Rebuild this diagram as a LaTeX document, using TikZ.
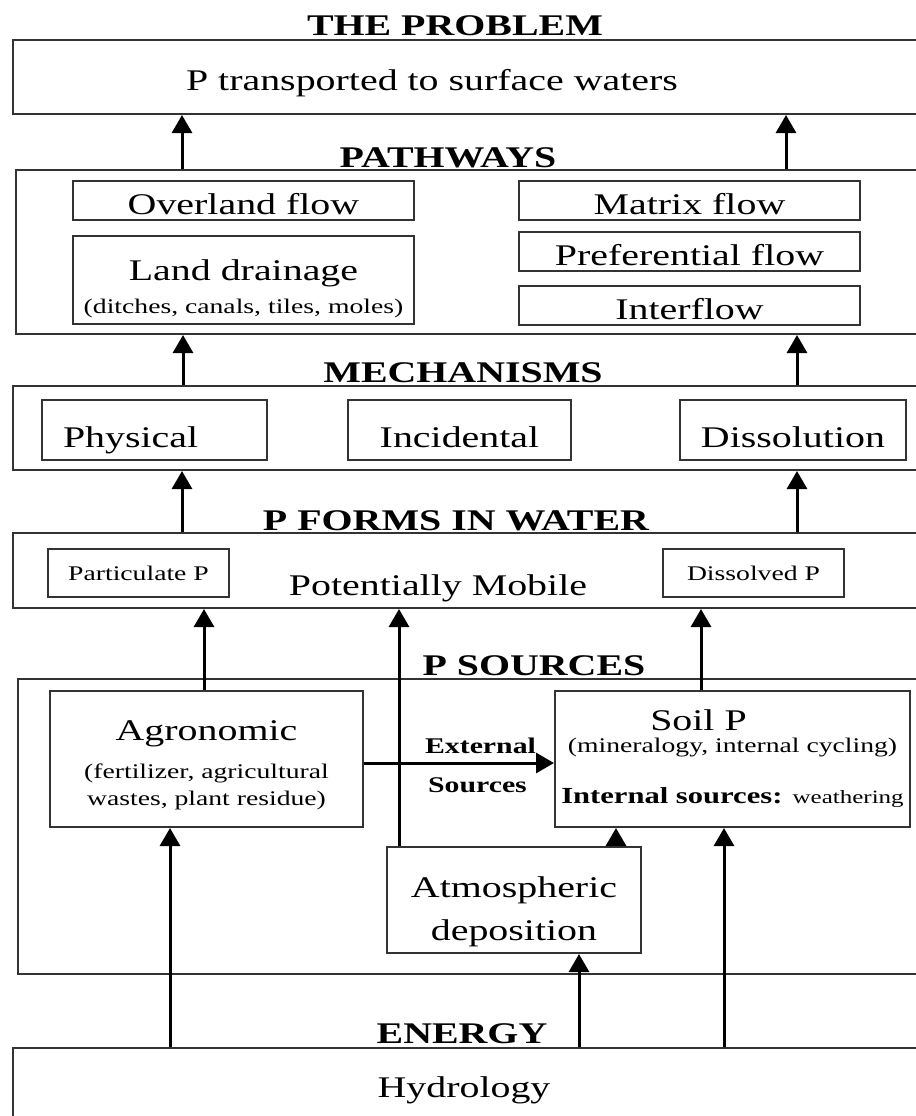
\documentclass[tikz,border=0pt]{standalone}
\usepackage{fontspec}
\setmainfont[FakeStretch=1.33]{Liberation Serif}
\usetikzlibrary{arrows.meta}
\newcommand{\bigtxt}{\fontsize{15}{18}\selectfont}
\newcommand{\smalltxt}{\fontsize{10.4}{18}\selectfont}
\tikzstyle{frame}=[draw=black!80,line width=1pt,inner sep=0pt,minimum width=458.5pt]
\tikzstyle{pbox}=[draw=black!80,line width=1pt,inner sep=0pt,font=\bigtxt,align=center]
\tikzstyle{flowbox}=[pbox,minimum width=170.5pt,minimum height=19.5pt,text height=14pt,text depth=0pt]
\tikzstyle{mechbox}=[pbox,minimum height=30pt,text height=17pt,text depth=0pt]
\tikzstyle{formbox}=[pbox,font=\smalltxt,minimum width=90.5pt,minimum height=24pt]
\tikzstyle{heading}=[anchor=base,font=\bigtxt\bfseries]
\tikzstyle{plain}=[anchor=base,font=\bigtxt]
\tikzstyle{srclabel}=[anchor=base west,font=\fontsize{11.2}{13}\selectfont\bfseries]
\tikzstyle{arr}=[-{Triangle[length=9pt,width=10pt]},line width=1.5pt]

\begin{document}
\begin{tikzpicture}[x=0.5pt,y=-0.5pt]
    \useasboundingbox (0,0) rectangle (916,1116);
    % big frames, running off the right edge
    \node[frame,minimum height=37pt] (problem) at (471.5,77) {};
    \node[frame,minimum width=457pt,minimum height=82pt] (paths) at (473,252) {};
    \node[frame,minimum height=42pt] (mech) at (471.5,428) {};
    \node[frame,minimum height=37.5pt] (forms) at (471.5,570.5) {};
    \node[frame,minimum width=456pt,minimum height=147.5pt] (sources) at (474,826.5) {};
    \node[frame,minimum height=41pt] (hydro) at (471.5,1089) {};

    \node[heading] (tproblem) at (455,35) {THE PROBLEM};
    \node[heading] (tpaths) at (448,167) {PATHWAYS};
    \node[heading] (tmech) at (463,382) {MECHANISMS};
    \node[heading] (tforms) at (456,530) {P FORMS IN WATER};
    \node[heading] (tsources) at (534,675) {P SOURCES};
    \node[heading] (tenergy) at (462,1043) {ENERGY};

    \node[plain] (ptext) at (432,90) {P transported to surface waters};
    \node[plain] (mobile) at (438,595) {Potentially Mobile};
    \node[plain] (hydrotext) at (464,1097) {Hydrology};

    \node[flowbox] (over) at (243.5,200.5) {Overland flow};
    \node[pbox,minimum width=170.5pt,minimum height=44pt,text height=33pt,text depth=0pt] (land) at (243.5,280)
        {Land drainage\\[-1.5pt]{\smalltxt (ditches, canals, tiles, moles)}};
    \node[flowbox] (matrix) at (689.5,200.5) {Matrix flow};
    \node[flowbox] (pref) at (689.5,251.5) {Preferential flow};
    \node[flowbox] (inter) at (689.5,305.5) {Interflow};

    \node[mechbox,align=left,inner xsep=10.5pt,text width=91.5pt] (phys) at (154.5,430) {Physical};
    \node[mechbox,minimum width=111.5pt] (incid) at (459.5,430) {Incidental};
    \node[mechbox,minimum width=113pt] (diss) at (793,430) {Dissolution};

    \node[formbox] (part) at (138.5,573) {Particulate P};
    \node[formbox] (dissp) at (753.5,573) {Dissolved P};

    \node[pbox,minimum width=156.5pt,minimum height=68pt,text height=46pt,text depth=0pt] (agro) at (206.5,759)
        {Agronomic\\[1pt]{\smalltxt (fertilizer, agricultural}\\[-4.5pt]{\smalltxt wastes, plant residue)}};
    \node[pbox,minimum width=177.5pt,minimum height=68pt] (soil) at (732.5,759)
        {Soil P\hspace*{34pt}\\[-7pt]{\smalltxt (mineralogy, internal cycling)}\\[7.5pt]{\fontsize{11.5}{18}\selectfont\bfseries Internal sources: }{\fontsize{9.4}{18}\selectfont weathering}};
    \node[pbox,minimum width=127pt,minimum height=53pt,text height=40pt,text depth=0pt] (atmos) at (514,900)
        {Atmospheric\\[3.5pt]deposition};

    \node[srclabel] (ext) at (418,753) {External};
    \node[srclabel] (extsrc) at (421,792) {Sources};

    \foreach \from/\to/\x in {paths/problem/182,paths/problem/786,mech/paths/183,mech/paths/797,
        forms/mech/182,forms/mech/797,agro/forms/204,atmos/forms/399,soil/forms/701,
        hydro/agro/170,hydro/atmos/579,hydro/soil/724,atmos/soil/616}
    \draw[arr] (\from.north -| \x,0) -- (\to.south -| \x,0);
    \draw[arr] (agro.east |- 0,763) -- (soil.west |- 0,763);
\end{tikzpicture}
\end{document}
